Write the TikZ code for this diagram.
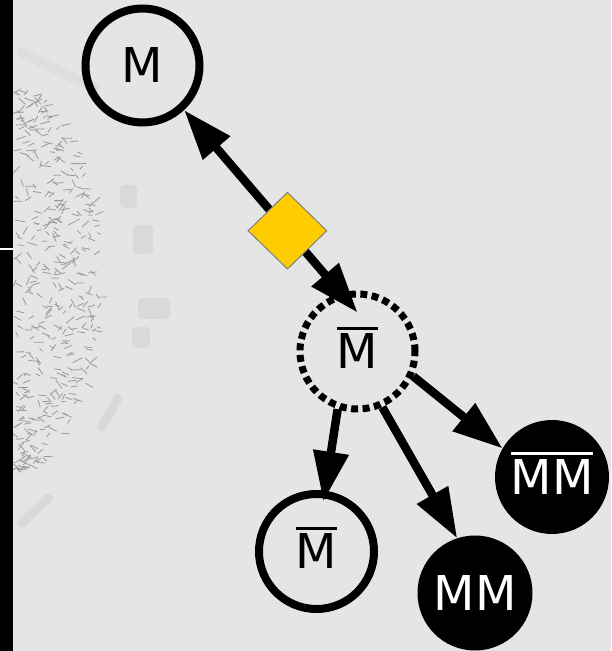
\documentclass[tikz,border=0pt]{standalone}
\usepackage{fontspec}
\setmainfont{DejaVu Sans}
\usetikzlibrary{arrows.meta,shapes.geometric}
\definecolor{paper}{HTML}{E5E5E5}
\definecolor{gatecolor}{HTML}{FFCC00}
\newcommand\ovl[2][4pt]{\vbox{\hrule height 3pt\kern #1\hbox{#2}}}

\begin{document}
\begin{tikzpicture}[x=1pt,y=1pt,>={Triangle[length=50pt,width=34pt]},
	state/.style={circle,draw,line width=8pt,inner sep=0pt,minimum size=114pt,font=\fontsize{48}{58}\selectfont,text height=35pt,text depth=0pt},
	hidden/.style={state,line width=7pt,dash pattern=on 7pt off 4.5pt},
	observed/.style={state,draw=none,fill=black,text=white,outer sep=0pt,minimum size=115pt},
	gate/.style={diamond,draw=gray,fill=gatecolor,line width=1pt,inner sep=0pt,minimum width=79pt,minimum height=77pt},
	link/.style={line width=8.5pt,->},
	grain/.style={black!40,line width=0.8pt},
	blob/.style={fill=black!15,rounded corners=4pt}]
	\useasboundingbox (0,0) rectangle (611,651);
	\fill[paper] (0,0) rectangle (611,651);
	
	\pgfmathsetseed{11}
	\foreach \i in {1,...,420}{
		\pgfmathsetmacro\ty{-1+2*rnd}
		\pgfmathsetmacro\tx{13+88*rnd*sqrt(1-\ty*\ty)}
		\pgfmathsetmacro\ta{-60+120*rnd}
		\draw[grain] (\tx,371+190*\ty) -- ++(\ta:3+8*rnd);
	}
	\draw[black!13,line width=10pt,line cap=round] (22,598) -- (95,563);
	\fill[blob] (120,466) rectangle (137,443);
	\fill[blob] (133,426) rectangle (153,397);
	\fill[blob] (138,353) rectangle (170,332);
	\fill[blob] (132,324) rectangle (150,303);
	\draw[black!15,line width=9pt,line cap=round] (118,253) -- (102,224);
	\draw[black!15,line width=9pt,line cap=round] (48,153) -- (22,128);
	
	\fill (0,0) rectangle (13,651);
	\draw[white,line width=1.5pt] (0,402) -- (13,402);
	
	\node[state] (M) at (142.5,585.5) {M};
	\node[hidden,minimum size=115pt] (Md) at (357.5,299.5) {\ovl{M}};
	\node[state,minimum size=115pt] (Mb) at (316.5,99.5) {\ovl{M}};
	\node[observed] (MM) at (475,58) {MM};
	\node[observed,minimum size=114pt] (MbMb) at (552,174) {\ovl[5pt]{MM}};
	
	\draw[link,<->,shorten >=-26pt] (M.-47) -- (Md.106) node[gate,pos=0.66] (g) {};
	\draw[link,shorten >=-11pt] (Md.-109) -- (Mb.82);
	\draw[link] (Md.-66) -- (MM.108);
	\draw[link] (Md.-24) -- (MbMb.150);
\end{tikzpicture}
\end{document}
